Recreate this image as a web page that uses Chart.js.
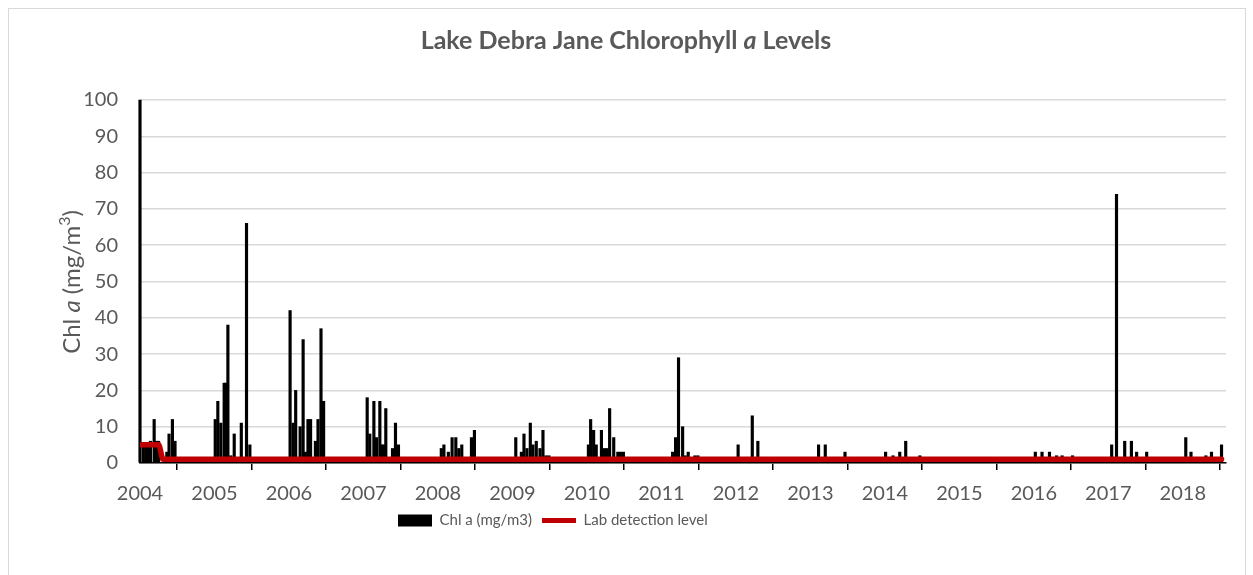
<!DOCTYPE html>
<html>
<head>
<meta charset="utf-8">
<title>Lake Debra Jane Chlorophyll a Levels</title>
<script src="https://cdn.jsdelivr.net/npm/chart.js@4.4.1/dist/chart.umd.min.js"></script>
<style>
  html, body { margin: 0; padding: 0; background: #fff; }
  #wrap { position: relative; width: 1253px; height: 575px; overflow: hidden; }
  #frame { position: absolute; left: 8px; top: 8px; width: 1236px; height: 600px; border: 1px solid #d9d9d9; pointer-events: none; }
</style>
</head>
<body>
<div id="wrap">
  <canvas id="chart" width="1253" height="575"></canvas>
  <div id="frame"></div>
</div>
<script>
// Sample dates (decimal year) and chlorophyll a values (mg/m3)
const chlDates = [
  2004.0, 2004.045, 2004.08, 2004.11, 2004.14, 2004.19, 2004.215, 2004.25, 2004.36, 2004.39, 2004.435, 2004.47,
  2005.01, 2005.045, 2005.085, 2005.13, 2005.15, 2005.18, 2005.22, 2005.265, 2005.36, 2005.43, 2005.475,
  2006.015, 2006.055, 2006.09, 2006.15, 2006.19, 2006.22, 2006.255, 2006.29, 2006.355, 2006.39, 2006.43, 2006.465,
  2007.05, 2007.085, 2007.14, 2007.175, 2007.22, 2007.245, 2007.27, 2007.30, 2007.39, 2007.43, 2007.47,
  2008.045, 2008.08, 2008.14, 2008.19, 2008.24, 2008.28, 2008.32, 2008.45, 2008.49,
  2009.045, 2009.12, 2009.155, 2009.195, 2009.24, 2009.275, 2009.32, 2009.37, 2009.41, 2009.45, 2009.49,
  2010.02, 2010.05, 2010.09, 2010.125, 2010.195, 2010.235, 2010.27, 2010.305, 2010.36, 2010.415, 2010.45, 2010.49,
  2011.15, 2011.19, 2011.23, 2011.285, 2011.32, 2011.36, 2011.45, 2011.49,
  2012.03, 2012.22, 2012.295,
  2013.11, 2013.20, 2013.465,
  2014.01, 2014.11, 2014.20, 2014.28, 2014.47,
  2016.02, 2016.11, 2016.21, 2016.305, 2016.38, 2016.52,
  2017.045, 2017.11, 2017.22, 2017.31, 2017.38, 2017.515,
  2018.04, 2018.11, 2018.31, 2018.385, 2018.52
];
const chlValues = [
  100, 5, 5, 5, 6, 12, 6, 6, 3, 8, 12, 6,
  12, 17, 11, 22, 22, 38, 2, 8, 11, 66, 5,
  42, 11, 20, 10, 34, 3, 12, 12, 6, 12, 37, 17,
  18, 8, 17, 7, 17, 5, 5, 15, 4, 11, 5,
  4, 5, 3, 7, 7, 4, 5, 7, 9,
  7, 3, 8, 4, 11, 5, 6, 4, 9, 2, 2,
  5, 12, 9, 5, 9, 4, 4, 15, 7, 3, 3, 3,
  3, 7, 29, 10, 2, 3, 2, 2,
  5, 13, 6,
  5, 5, 3,
  3, 2, 3, 6, 2,
  3, 3, 3, 2, 2, 2,
  5, 74, 6, 6, 3, 3,
  7, 3, 2, 3, 5
];

// Lab detection level
const detectDates = [2004.02, 2004.25, 2004.31, 2018.52];
const detectValues = [5, 5, 1, 1];

const yTicks = [0, 10, 20, 30, 40, 50, 60, 70, 80, 90, 100];
const xYears = [2004, 2005, 2006, 2007, 2008, 2009, 2010, 2011, 2012, 2013, 2014, 2015, 2016, 2017, 2018];

const GREY = '#595959';
const FONT = 'Lato, "Open Sans", sans-serif';

function drawRich(ctx, parts, cx, cy) {
  let total = 0;
  parts.forEach(p => { ctx.font = p.font; p.w = ctx.measureText(p.t).width; total += p.w; });
  let x = cx - total / 2;
  parts.forEach(p => {
    ctx.font = p.font;
    ctx.fillText(p.t, x, cy + (p.dy || 0));
    x += p.w;
  });
}

const textPlugin = {
  id: 'textPlugin',
  afterDraw(chart) {
    const ctx = chart.ctx;
    ctx.save();
    ctx.fillStyle = GREY;
    ctx.textBaseline = 'middle';
    drawRich(ctx, [
      { t: 'Lake Debra Jane Chlorophyll ', font: 'bold 25px ' + FONT },
      { t: 'a', font: 'italic bold 25px ' + FONT },
      { t: ' Levels', font: 'bold 25px ' + FONT }
    ], 626, 41);
    ctx.translate(72, 282);
    ctx.rotate(-Math.PI / 2);
    drawRich(ctx, [
      { t: 'Chl ', font: '24px ' + FONT },
      { t: 'a', font: 'italic 24px ' + FONT },
      { t: ' (mg/m', font: '24px ' + FONT },
      { t: '3', font: '16px ' + FONT, dy: -7 },
      { t: ')', font: '24px ' + FONT }
    ], 0, 0);
    ctx.restore();
  }
};

// nudge the legend so it starts where the original one does
const legendShift = {
  id: 'legendShift',
  afterLayout(chart) {
    const lg = chart.legend;
    lg.left = 388;
    lg.right = 1253;
  }
};

const barData = chlDates.map((d, i) => ({ x: d, y: chlValues[i] }));
const lineData = detectDates.map((d, i) => ({ x: d, y: detectValues[i] }));

new Chart(document.getElementById('chart'), {
  type: 'bar',
  data: {
    datasets: [
      {
        type: 'bar',
        label: 'Chl a (mg/m3)',
        data: barData,
        backgroundColor: '#000000',
        barThickness: 2.5,
        clip: false,
        order: 2
      },
      {
        type: 'line',
        label: 'Lab detection level',
        data: lineData,
        borderColor: '#c00000',
        backgroundColor: '#c00000',
        borderWidth: 5.5,
        borderCapStyle: 'round',
        borderJoinStyle: 'round',
        cubicInterpolationMode: 'monotone',
        pointRadius: 0,
        order: 1
      }
    ]
  },
  options: {
    responsive: false,
    animation: false,
    layout: { padding: { top: 100, left: 0, right: 27, bottom: 37 } },
    plugins: {
      title: { display: false },
      tooltip: { enabled: false },
      legend: {
        position: 'bottom',
        align: 'start',
        labels: {
          color: GREY,
          font: { family: FONT, size: 15 },
          usePointStyle: true,
          pointStyleWidth: 34,
          boxHeight: 12,
          padding: 10,
          generateLabels: () => [
            { text: 'Chl a (mg/m3)', fillStyle: '#000', strokeStyle: '#000', lineWidth: 0, pointStyle: 'rect', fontColor: GREY, datasetIndex: 0 },
            { text: 'Lab detection level', fillStyle: '#c00000', strokeStyle: '#c00000', lineWidth: 5, pointStyle: 'line', fontColor: GREY, datasetIndex: 1 }
          ]
        }
      }
    },
    scales: {
      x: {
        type: 'linear',
        min: 2004,
        max: 2018.58,
        offset: false,
        afterBuildTicks: (s) => { s.ticks = xYears.map(v => ({ value: v })); },
        ticks: {
          color: GREY,
          font: { family: FONT, size: 20 },
          padding: 12,
          maxRotation: 0,
          autoSkip: false,
          callback: (v) => String(Math.round(v))
        },
        grid: { display: true, drawOnChartArea: false, drawTicks: true, tickLength: 7, color: '#000', lineWidth: 1.5 },
        border: { display: true, color: '#000', width: 1.5 },
        afterFit: (s) => { s.height = 40; }
      },
      y: {
        min: 0,
        max: 100,
        afterBuildTicks: (s) => { s.ticks = yTicks.map(v => ({ value: v })); },
        ticks: {
          color: GREY,
          font: { family: FONT, size: 20 },
          padding: 22
        },
        grid: { color: '#d9d9d9', lineWidth: 1.5, drawTicks: false },
        border: { display: false },
        afterFit: (s) => { s.width = 140; }
      }
    }
  },
  plugins: [textPlugin, legendShift]
});
</script>
</body>
</html>
